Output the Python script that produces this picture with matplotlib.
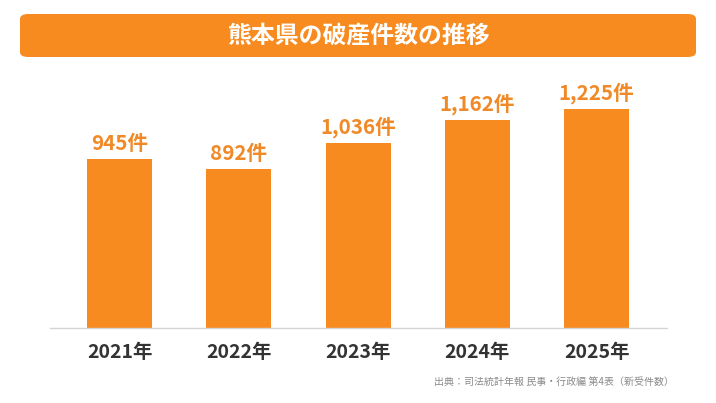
import matplotlib
matplotlib.use("Agg")
import matplotlib.pyplot as plt
from matplotlib.patches import FancyBboxPatch

plt.rcParams['font.family'] = ['Noto Sans CJK JP', 'DejaVu Sans']

# data
years = ['2021年', '2022年', '2023年', '2024年', '2025年']
counts = [945, 892, 1036, 1162, 1225]
title = '熊本県の破産件数の推移'
source = '出典：司法統計年報 民事・行政編 第4表（新受件数）'

orange = '#F78B1F'
label_orange = '#F08A28'

fig = plt.figure(figsize=(7.16, 4.03), dpi=100)
ax = fig.add_axes([50 / 716, 75 / 403, 617 / 716, 258 / 403])

x = list(range(len(years)))
ax.bar(x, counts, width=0.545, color=orange, zorder=2)

for xi, v in zip(x, counts):
    ax.annotate(f'{v:,}件', (xi, v), xytext=(0, 3.5), textcoords='offset points',
                ha='center', va='bottom', fontsize=14.8, fontweight='bold',
                color=label_orange)

ax.set_xlim(-0.585, 4.59)
ax.set_ylim(0, 1443)
ax.set_xticks(x)
ax.set_xticklabels(years, fontsize=14, fontweight='bold', color='#333333')
ax.tick_params(axis='x', length=0, pad=11)
ax.set_yticks([])
for side in ['top', 'right', 'left']:
    ax.spines[side].set_visible(False)
ax.spines['bottom'].set_color('#d4d4d4')
ax.spines['bottom'].set_linewidth(1.0)

# title box
box = FancyBboxPatch((20 / 716, (403 - 57) / 403), 676 / 716, 43 / 403,
                     boxstyle='round,pad=0,rounding_size=0.012',
                     transform=fig.transFigure, facecolor=orange,
                     edgecolor='none')
fig.patches.append(box)
fig.text(358 / 716, (403 - 36) / 403, title, ha='center', va='center',
         fontsize=17.2, fontweight='bold', color='white')

fig.text(674 / 716, (403 - 382) / 403, source, ha='right', va='center',
         fontsize=7.2, color='#8a8a8a')

fig.savefig('out.png', dpi=100)
